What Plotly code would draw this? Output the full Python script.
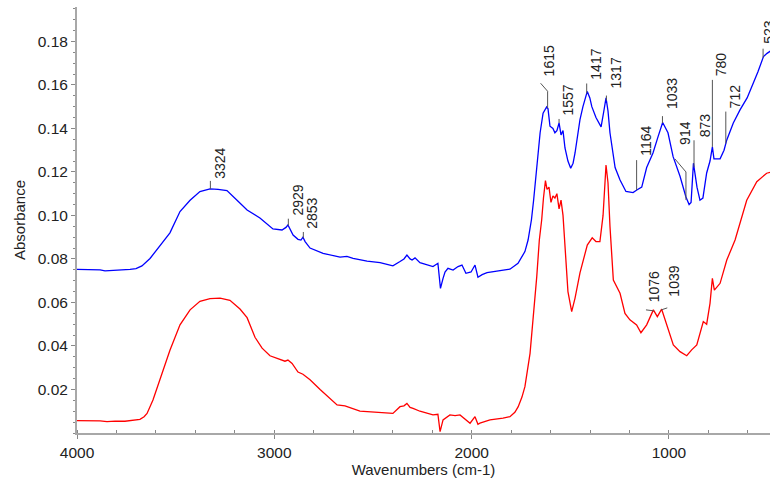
import numpy as np
import plotly.graph_objects as go

# ---------------- data ----------------
blue_wn = [4000, 3934, 3883, 3858, 3823, 3782, 3731, 3701, 3671, 3630, 3579, 3529, 3478, 3427, 3377,
           3326, 3285, 3240, 3189, 3138, 3073, 3007, 2961, 2941, 2931, 2921, 2905, 2880, 2865, 2855,
           2844, 2819, 2753, 2667, 2632, 2601, 2530, 2464, 2399, 2363, 2343, 2328, 2312, 2302, 2287,
           2262, 2196, 2171, 2158, 2145, 2135, 2120, 2094, 2069, 2049, 2029, 2003, 1983, 1968, 1947,
           1922, 1856, 1806, 1765, 1730, 1714, 1697, 1686, 1669, 1653, 1638, 1620, 1613, 1603, 1588,
           1578, 1568, 1557, 1547, 1537, 1527, 1512, 1498, 1486, 1476, 1461, 1451, 1436, 1414, 1401,
           1391, 1370, 1344, 1330, 1319, 1309, 1299, 1273, 1248, 1218, 1182, 1163, 1138, 1113, 1081,
           1056, 1032, 1005, 979, 944, 914, 898, 888, 876, 868, 858, 843, 828, 809, 792, 780, 772,
           741, 721, 707, 674, 640, 604, 572, 549, 521, 503, 478]
blue_abs = [0.0752, 0.0752, 0.0750, 0.0745, 0.0746, 0.0750, 0.0752, 0.0756, 0.0768, 0.0802, 0.0860,
            0.0920, 0.1018, 0.1070, 0.1110, 0.1122, 0.1120, 0.1114, 0.1070, 0.1025, 0.0988, 0.0938,
            0.0933, 0.0945, 0.0956, 0.0940, 0.0910, 0.0890, 0.0887, 0.0900, 0.0880, 0.0850, 0.0826,
            0.0808, 0.0812, 0.0803, 0.0790, 0.0783, 0.0768, 0.0788, 0.0800, 0.0818, 0.0800, 0.0795,
            0.0805, 0.0783, 0.0765, 0.0780, 0.0665, 0.0711, 0.0740, 0.0757, 0.0749, 0.0765, 0.0772,
            0.0734, 0.0740, 0.0772, 0.0716, 0.0728, 0.0737, 0.0746, 0.0753, 0.0780, 0.0834, 0.0887,
            0.0980, 0.1070, 0.1250, 0.1380, 0.1470, 0.1499, 0.1490, 0.1410, 0.1400, 0.1380, 0.1390,
            0.1425, 0.1370, 0.1390, 0.1310, 0.1250, 0.1217, 0.1240, 0.1287, 0.1380, 0.1440, 0.1500,
            0.1570, 0.1540, 0.1500, 0.1450, 0.1407, 0.1480, 0.1540, 0.1480, 0.1380, 0.1220, 0.1163,
            0.1110, 0.1105, 0.1117, 0.1130, 0.1220, 0.1287, 0.1360, 0.1427, 0.1380, 0.1270, 0.1180,
            0.1085, 0.1050, 0.1060, 0.1240, 0.1190, 0.1130, 0.1070, 0.1080, 0.1195, 0.1250, 0.1315,
            0.1260, 0.1260, 0.1300, 0.1347, 0.1425, 0.1485, 0.1540, 0.1610, 0.1660, 0.1730, 0.1745,
            0.1760]

red_wn = [4000, 3934, 3883, 3848, 3807, 3757, 3721, 3681, 3660, 3645, 3615, 3579, 3554, 3529, 3478,
          3427, 3377, 3326, 3275, 3225, 3174, 3138, 3098, 3062, 3022, 2971, 2946, 2931, 2910, 2880,
          2855, 2819, 2768, 2682, 2642, 2566, 2464, 2399, 2363, 2343, 2328, 2312, 2297, 2262, 2196,
          2171, 2160, 2145, 2110, 2084, 2059, 2029, 2008, 1983, 1968, 1958, 1907, 1841, 1806, 1781,
          1764, 1745, 1730, 1704, 1688, 1670, 1657, 1645, 1636, 1626, 1618, 1608, 1598, 1588, 1578,
          1568, 1557, 1547, 1537, 1527, 1512, 1493, 1476, 1451, 1414, 1389, 1370, 1350, 1334, 1319,
          1309, 1299, 1290, 1282, 1248, 1223, 1198, 1164, 1142, 1113, 1079, 1059, 1037, 1008, 978,
          944, 910, 885, 859, 826, 809, 792, 780, 770, 741, 707, 665, 606, 555, 505, 478]
red_abs = [0.0057, 0.0058, 0.0056, 0.0052, 0.0055, 0.0054, 0.0058, 0.0063, 0.0075, 0.0090, 0.0152,
           0.0244, 0.0310, 0.0380, 0.0497, 0.0566, 0.0605, 0.0618, 0.0620, 0.0610, 0.0570, 0.0530,
           0.0440, 0.0390, 0.0355, 0.0336, 0.0330, 0.0335, 0.0320, 0.0280, 0.0270, 0.0245, 0.0200,
           0.0129, 0.0125, 0.0101, 0.0095, 0.0090, 0.0121, 0.0125, 0.0136, 0.0118, 0.0113, 0.0100,
           0.0083, 0.0086, 0.0006, 0.0060, 0.0083, 0.0080, 0.0083, 0.0060, 0.0045, 0.0075, 0.0040,
           0.0045, 0.0060, 0.0068, 0.0075, 0.0095, 0.0121, 0.0165, 0.0213, 0.0366, 0.0520, 0.0719,
           0.0887, 0.0980, 0.1080, 0.1160, 0.1120, 0.1130, 0.1060, 0.1090, 0.1080, 0.1100, 0.1030,
           0.1070, 0.1000, 0.0840, 0.0650, 0.0558, 0.0620, 0.0736, 0.0864, 0.0897, 0.0880, 0.0880,
           0.1000, 0.1232, 0.1150, 0.0950, 0.0795, 0.0703, 0.0642, 0.0550, 0.0520, 0.0497, 0.0461,
           0.0497, 0.0566, 0.0535, 0.0569, 0.0489, 0.0405, 0.0374, 0.0355, 0.0382, 0.0405, 0.0512,
           0.0500, 0.0596, 0.0711, 0.0657, 0.0688, 0.0795, 0.0887, 0.1070, 0.1155, 0.1194, 0.1200]

blue_peaks = [3324, 2929, 2853, 1615, 1557, 1417, 1317, 1164, 1033, 914, 873, 780, 712, 523]
red_peaks = [1076, 1039]

x_ticks = [4000, 3000, 2000, 1000]
y_ticks = [0.02, 0.04, 0.06, 0.08, 0.10, 0.12, 0.14, 0.16, 0.18]

# ---------------- style / layout ----------------
W, H = 770, 481
ML, MR, MT, MB = 77, 0, 7, 48
XR = [4000, 488]
YR = [0, 0.1958]
plot_w = W - ML - MR
plot_h = H - MT - MB
wn_per_px = (XR[0] - XR[1]) / plot_w
abs_per_px = (YR[1] - YR[0]) / plot_h

FONT = "Arial, 'Liberation Sans', sans-serif"
TXT = "#222222"
LEAD = "#555555"

# label placement offsets in pixels: text (dx, dy), leader polyline
blue_label_style = {
    3324: (10, 8, [(0, 0), (0, 8)]),
    2929: (10, 8, [(0, 0), (0, 7)]),
    2853: (9, 7, [(0, 0), (0, 6)]),
    1615: (1, 30, [(0, 0), (0, 17), (-7, 25)]),
    1557: (9, 5, [(0, 0), (0, 4)]),
    1417: (9, 12, [(0, 0), (0, 10)]),
    1317: (10, 10, [(0, 0), (0, 5)]),
    1164: (9, 32, [(0, 0), (0, 30)]),
    1033: (9, 12, [(0, 0), (0, 7)]),
    914: (-1, 50, [(0, -3), (0, 25), (-11, 38)]),
    873: (11, 28, [(0, 0), (0, 27)]),
    780: (9, 69, [(0, 0), (0, 67)]),
    712: (9, 33, [(0, 0), (0, 32)]),
    523: (6, 12, [(0, 0), (0, 9)]),
}
red_label_style = {
    1076: (0, 7, [(0, 0), (-8, 1)]),
    1039: (13, 11, [(0, 0), (6, 2)]),
}

fig = go.Figure()
fig.add_trace(go.Scatter(x=red_wn, y=red_abs, mode="lines",
                         line=dict(color="#ff0000", width=1.3), hoverinfo="skip"))
fig.add_trace(go.Scatter(x=blue_wn, y=blue_abs, mode="lines",
                         line=dict(color="#0000ff", width=1.3), hoverinfo="skip"))

annotations = []


def add_labels(peaks, wn, ab, styles):
    wn_a = np.array(wn[::-1], dtype=float)
    ab_a = np.array(ab[::-1], dtype=float)
    for p in peaks:
        val = float(np.interp(p, wn_a, ab_a))
        dx, dy, lead = styles[p]
        lx = [p - ox * wn_per_px for ox, oy in lead]
        ly = [val + oy * abs_per_px for ox, oy in lead]
        fig.add_trace(go.Scatter(x=lx, y=ly, mode="lines",
                                 line=dict(color=LEAD, width=1), hoverinfo="skip"))
        annotations.append(dict(x=p, y=val, xref="x", yref="y", text=str(p), showarrow=False,
                                textangle=-90, xanchor="center", yanchor="bottom",
                                xshift=dx, yshift=dy,
                                font=dict(family=FONT, size=14, color=TXT)))


add_labels(blue_peaks, blue_wn, blue_abs, blue_label_style)
add_labels(red_peaks, red_wn, red_abs, red_label_style)

fig.update_layout(
    width=W, height=H,
    margin=dict(l=ML, r=MR, t=MT, b=MB, pad=0, autoexpand=False),
    paper_bgcolor="white", plot_bgcolor="white",
    showlegend=False,
    annotations=annotations,
    font=dict(family=FONT, color=TXT),
)
fig.update_xaxes(
    range=XR, tickvals=x_ticks, ticktext=[str(v) for v in x_ticks],
    showgrid=False, zeroline=False, automargin=False,
    showline=True, linecolor="#a8a8a8", linewidth=2,
    ticks="outside", ticklen=4, tickcolor="#888888",
    minor=dict(dtick=200, ticks="inside", ticklen=3, tickcolor="#888888", showgrid=False),
    tickfont=dict(family=FONT, size=15.5, color=TXT),
    title=dict(text="Wavenumbers (cm-1)", font=dict(family=FONT, size=15, color=TXT), standoff=4),
)
fig.update_yaxes(
    range=YR, tickvals=y_ticks, ticktext=["%.2f" % v for v in y_ticks],
    showgrid=False, zeroline=False, automargin=False,
    showline=True, linecolor="#a8a8a8", linewidth=2,
    ticks="outside", ticklen=4, tickcolor="#888888",
    minor=dict(dtick=0.005, ticks="outside", ticklen=2, tickcolor="#888888", showgrid=False),
    tickfont=dict(family=FONT, size=15.5, color=TXT),
    title=dict(text="Absorbance", font=dict(family=FONT, size=15, color=TXT), standoff=8),
)

fig.write_html("out.html",
               config={"displayModeBar": False, "staticPlot": True},
               post_script="document.body.style.margin='0px';document.body.style.overflow='hidden';")
